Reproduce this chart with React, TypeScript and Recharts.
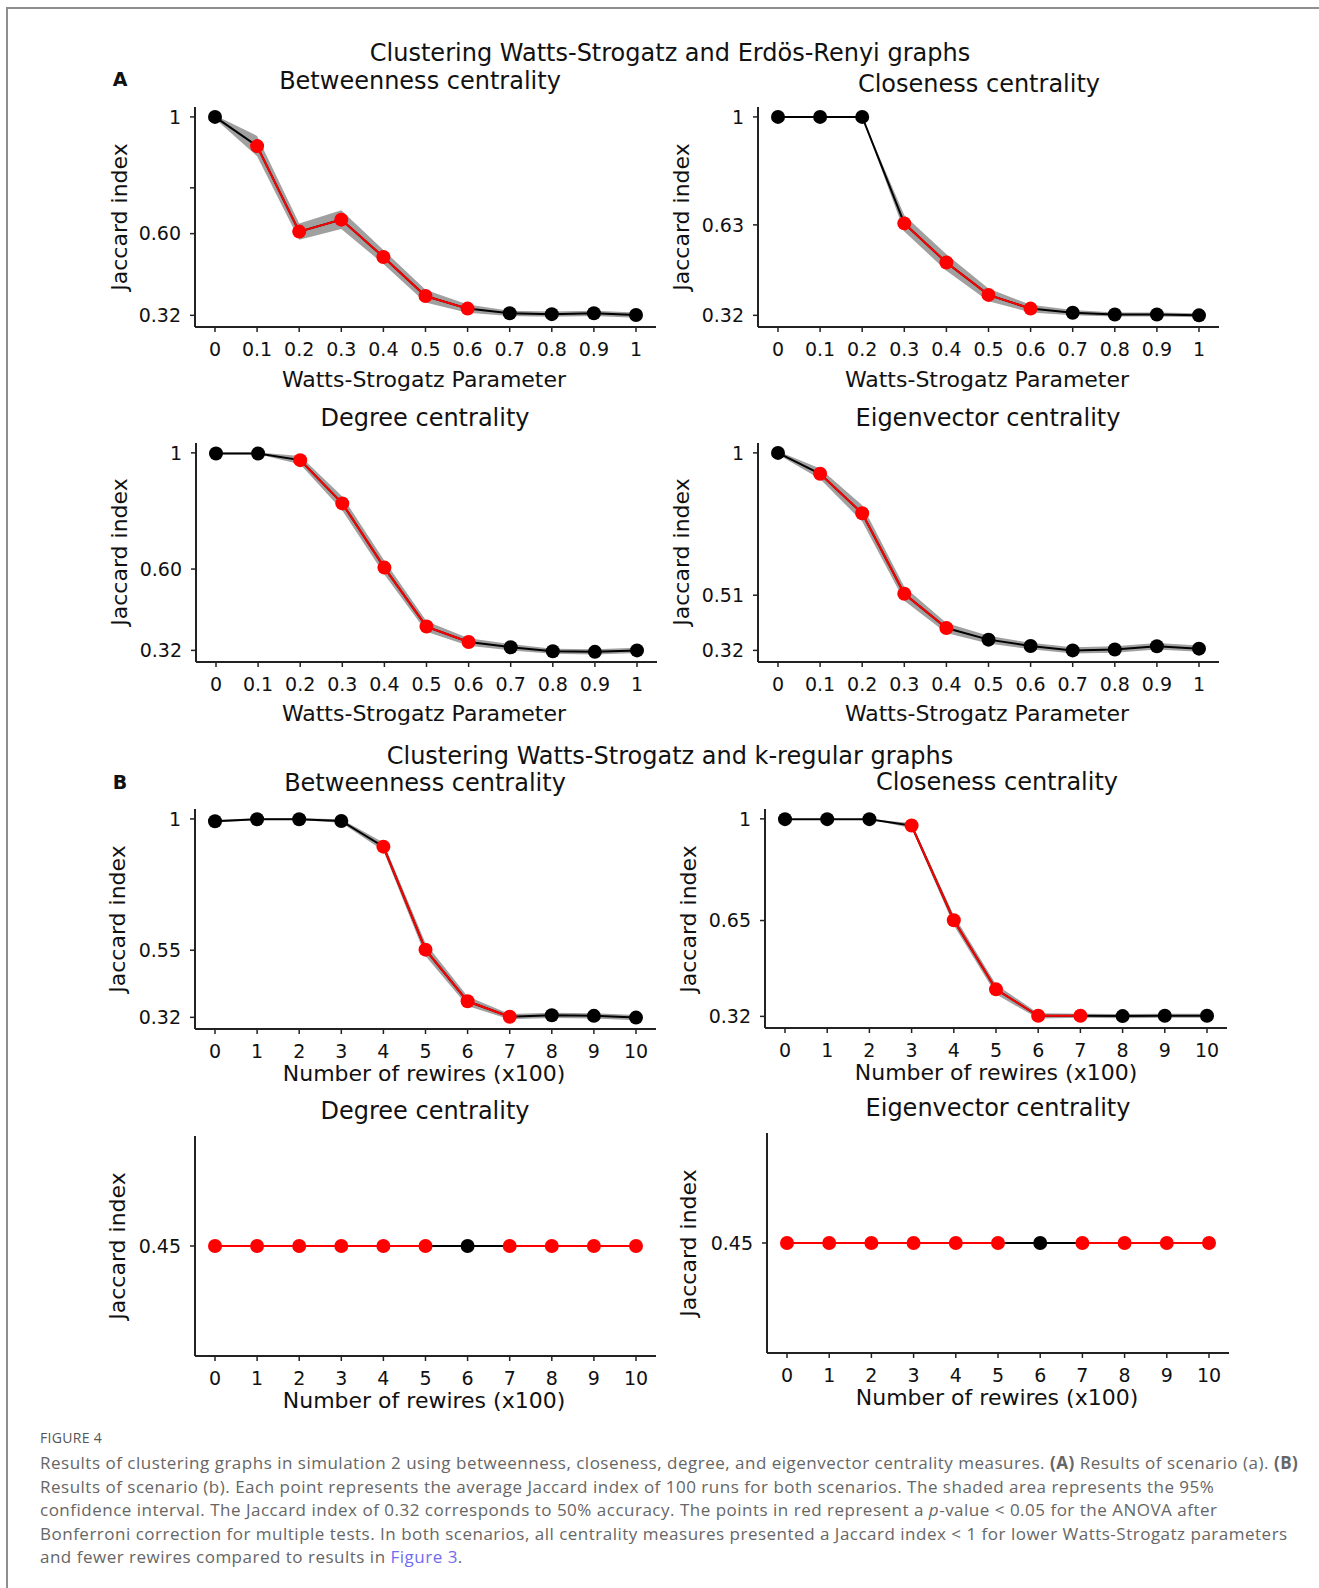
import { ComposedChart, Line, Area, XAxis, YAxis } from 'recharts';

const FONT = '"DejaVu Sans", sans-serif';
const RED = '#ff0000';

// x categories
const wsParams = ['0', '0.1', '0.2', '0.3', '0.4', '0.5', '0.6', '0.7', '0.8', '0.9', '1'];
const rewires = ['0', '1', '2', '3', '4', '5', '6', '7', '8', '9', '10'];

// Scenario A: Watts-Strogatz vs Erdös-Renyi
const betweennessA = [1.0, 0.9, 0.607, 0.648, 0.52, 0.386, 0.343, 0.327, 0.324, 0.327, 0.321];
const betweennessACi = [0.006, 0.035, 0.028, 0.032, 0.024, 0.022, 0.014, 0.009, 0.009, 0.009, 0.009];
const betweennessASig = [0, 1, 1, 1, 1, 1, 1, 0, 0, 0, 0];
const betweennessATicks = [0.32, 0.6, 0.757, 1];
const betweennessALabels = ['0.32', '0.60', '', '1'];

const closenessA = [1.0, 1.0, 1.0, 0.635, 0.501, 0.39, 0.343, 0.329, 0.323, 0.323, 0.32];
const closenessACi = [0, 0, 0, 0.028, 0.028, 0.022, 0.013, 0.009, 0.007, 0.007, 0.007];
const closenessASig = [0, 0, 0, 1, 1, 1, 1, 0, 0, 0, 0];
const closenessATicks = [0.32, 0.63, 1];
const closenessALabels = ['0.32', '0.63', '1'];

const degreeA = [0.998, 0.998, 0.975, 0.826, 0.605, 0.402, 0.349, 0.331, 0.317, 0.315, 0.32];
const degreeACi = [0.003, 0.003, 0.014, 0.024, 0.024, 0.018, 0.013, 0.011, 0.009, 0.009, 0.009];
const degreeASig = [0, 0, 1, 1, 1, 1, 1, 0, 0, 0, 0];
const degreeATicks = [0.32, 0.6, 1];
const degreeALabels = ['0.32', '0.60', '1'];

const eigenA = [1.0, 0.928, 0.792, 0.515, 0.397, 0.357, 0.335, 0.32, 0.323, 0.334, 0.326];
const eigenACi = [0.006, 0.018, 0.028, 0.024, 0.017, 0.013, 0.011, 0.011, 0.011, 0.011, 0.011];
const eigenASig = [0, 1, 1, 1, 1, 0, 0, 0, 0, 0, 0];
const eigenATicks = [0.32, 0.51, 1];
const eigenALabels = ['0.32', '0.51', '1'];

// Scenario B: Watts-Strogatz vs k-regular
const betweennessB = [0.992, 0.999, 0.999, 0.993, 0.905, 0.552, 0.375, 0.322, 0.327, 0.325, 0.319];
const betweennessBCi = [0.004, 0.003, 0.003, 0.006, 0.014, 0.022, 0.016, 0.009, 0.009, 0.009, 0.009];
const betweennessBSig = [0, 0, 0, 0, 1, 1, 1, 1, 0, 0, 0];
const betweennessBTicks = [0.32, 0.55, 1];
const betweennessBLabels = ['0.32', '0.55', '1'];

const closenessB = [0.999, 0.999, 0.999, 0.977, 0.651, 0.413, 0.322, 0.322, 0.321, 0.322, 0.322];
const closenessBCi = [0, 0, 0, 0.009, 0.017, 0.017, 0.009, 0.007, 0.007, 0.007, 0.007];
const closenessBSig = [0, 0, 0, 1, 1, 1, 1, 1, 0, 0, 0];
const closenessBTicks = [0.32, 0.65, 1];
const closenessBLabels = ['0.32', '0.65', '1'];

const degreeB = [0.45, 0.45, 0.45, 0.45, 0.45, 0.45, 0.45, 0.45, 0.45, 0.45, 0.45];
const degreeBCi = [0, 0, 0, 0, 0, 0, 0, 0, 0, 0, 0];
const degreeBSig = [1, 1, 1, 1, 1, 1, 0, 1, 1, 1, 1];

const eigenB = [0.45, 0.45, 0.45, 0.45, 0.45, 0.45, 0.45, 0.45, 0.45, 0.45, 0.45];
const eigenBCi = [0, 0, 0, 0, 0, 0, 0, 0, 0, 0, 0];
const eigenBSig = [1, 1, 1, 1, 1, 1, 0, 1, 1, 1, 1];

const flatTicks = [0.45];
const flatLabels = ['0.45'];

const Txt = ({ x, y, size, children, rotate, weight }: any) => (
  <div
    style={{
      position: 'absolute',
      left: x,
      top: y,
      transform: `translate(-50%, -50%)${rotate ? ' rotate(-90deg)' : ''}`,
      fontSize: size,
      fontFamily: FONT,
      fontWeight: weight || 'normal',
      lineHeight: 1,
      whiteSpace: 'nowrap',
      color: '#111',
    }}
  >
    {children}
  </div>
);

const renderDot = (props: any) => {
  const { cx, cy, payload, index } = props;
  if (cx == null || cy == null) return <g key={`d-${index}`} />;
  return <circle key={`d-${index}`} cx={cx} cy={cy} r={7} fill={payload.sig ? RED : '#000'} />;
};

const Panel = ({ cats, vals, ci, sig, ticks, labels, domain, left, top, w, h }: any) => {
  const data = cats.map((c: string, i: number) => ({
    x: c,
    v: vals[i],
    band: [vals[i] - ci[i], vals[i] + ci[i]],
    red: sig[i] ? vals[i] : null,
    sig: sig[i],
  }));
  const axisStyle = { stroke: '#222', strokeWidth: 2 };
  return (
    <div style={{ position: 'absolute', left: left - 80, top: top - 10 }}>
      <ComposedChart width={w + 90} height={h + 60} data={data} margin={{ top: 10, right: 10, left: 0, bottom: 0 }}>
        <XAxis
          dataKey="x"
          padding={{ left: 20, right: 20 }}
          height={50}
          axisLine={axisStyle}
          tickLine={{ stroke: '#222', strokeWidth: 1.5 }}
          tickSize={5}
          tickMargin={11}
          interval={0}
          tick={{ fontSize: 19, fill: '#111', fontFamily: FONT }}
        />
        <YAxis
          type="number"
          width={80}
          domain={domain}
          ticks={ticks}
          allowDataOverflow
          interval={0}
          tickFormatter={(t: number) => labels[ticks.indexOf(t)] ?? ''}
          axisLine={axisStyle}
          tickLine={{ stroke: '#222', strokeWidth: 1.5 }}
          tickSize={5}
          tickMargin={9}
          tick={{ fontSize: 19, fill: '#111', fontFamily: FONT }}
        />
        <Area
          type="linear"
          dataKey="band"
          stroke="none"
          fill="#a0a0a0"
          fillOpacity={1}
          isAnimationActive={false}
          activeDot={false}
        />
        <Line type="linear" dataKey="v" stroke="#000" strokeWidth={2} dot={false} activeDot={false} isAnimationActive={false} />
        <Line type="linear" dataKey="red" stroke={RED} strokeWidth={2} dot={false} activeDot={false} isAnimationActive={false} />
        <Line type="linear" dataKey="v" stroke="none" dot={renderDot} activeDot={false} isAnimationActive={false} />
      </ComposedChart>
    </div>
  );
};

const DOM = [0.28, 1.034];
const FLAT = [0.4, 0.5];

export default function App() {
  return (
    <div style={{ position: 'absolute', left: 0, top: 0, width: 1319, height: 1588, background: '#fff', overflow: 'hidden' }}>
      {/* frame */}
      <div style={{ position: 'absolute', left: 6, top: 7, width: 1313, height: 2, background: '#8e8e8e' }} />
      <div style={{ position: 'absolute', left: 6, top: 7, width: 2, height: 1581, background: '#8e8e8e' }} />

      <Txt x={670} y={53} size={24}>Clustering Watts-Strogatz and Erdös-Renyi graphs</Txt>
      <Txt x={120} y={79} size={19} weight="bold">A</Txt>

      <Txt x={420} y={81} size={24}>Betweenness centrality</Txt>
      <Panel cats={wsParams} vals={betweennessA} ci={betweennessACi} sig={betweennessASig} ticks={betweennessATicks} labels={betweennessALabels} domain={DOM} left={195} top={107} w={461} h={220} />
      <Txt x={120} y={217} size={22} rotate>Jaccard index</Txt>
      <Txt x={424} y={380} size={22}>Watts-Strogatz Parameter</Txt>

      <Txt x={979} y={84} size={24}>Closeness centrality</Txt>
      <Panel cats={wsParams} vals={closenessA} ci={closenessACi} sig={closenessASig} ticks={closenessATicks} labels={closenessALabels} domain={DOM} left={758} top={107} w={461} h={220} />
      <Txt x={682} y={217} size={22} rotate>Jaccard index</Txt>
      <Txt x={987} y={380} size={22}>Watts-Strogatz Parameter</Txt>

      <Txt x={425} y={418} size={24}>Degree centrality</Txt>
      <Panel cats={wsParams} vals={degreeA} ci={degreeACi} sig={degreeASig} ticks={degreeATicks} labels={degreeALabels} domain={DOM} left={196} top={443} w={461} h={219} />
      <Txt x={120} y={552} size={22} rotate>Jaccard index</Txt>
      <Txt x={424} y={714} size={22}>Watts-Strogatz Parameter</Txt>

      <Txt x={988} y={418} size={24}>Eigenvector centrality</Txt>
      <Panel cats={wsParams} vals={eigenA} ci={eigenACi} sig={eigenASig} ticks={eigenATicks} labels={eigenALabels} domain={DOM} left={758} top={443} w={461} h={219} />
      <Txt x={682} y={552} size={22} rotate>Jaccard index</Txt>
      <Txt x={987} y={714} size={22}>Watts-Strogatz Parameter</Txt>

      <Txt x={670} y={756} size={24}>Clustering Watts-Strogatz and k-regular graphs</Txt>
      <Txt x={120} y={782} size={19} weight="bold">B</Txt>

      <Txt x={425} y={783} size={24}>Betweenness centrality</Txt>
      <Panel cats={rewires} vals={betweennessB} ci={betweennessBCi} sig={betweennessBSig} ticks={betweennessBTicks} labels={betweennessBLabels} domain={DOM} left={195} top={809} w={461} h={220} />
      <Txt x={118} y={919} size={22} rotate>Jaccard index</Txt>
      <Txt x={424} y={1074} size={22}>Number of rewires (x100)</Txt>

      <Txt x={997} y={782} size={24}>Closeness centrality</Txt>
      <Panel cats={rewires} vals={closenessB} ci={closenessBCi} sig={closenessBSig} ticks={closenessBTicks} labels={closenessBLabels} domain={DOM} left={765} top={809} w={462} h={219} />
      <Txt x={689} y={919} size={22} rotate>Jaccard index</Txt>
      <Txt x={996} y={1073} size={22}>Number of rewires (x100)</Txt>

      <Txt x={425} y={1111} size={24}>Degree centrality</Txt>
      <Panel cats={rewires} vals={degreeB} ci={degreeBCi} sig={degreeBSig} ticks={flatTicks} labels={flatLabels} domain={FLAT} left={195} top={1136} w={461} h={220} />
      <Txt x={118} y={1246} size={22} rotate>Jaccard index</Txt>
      <Txt x={424} y={1401} size={22}>Number of rewires (x100)</Txt>

      <Txt x={998} y={1108} size={24}>Eigenvector centrality</Txt>
      <Panel cats={rewires} vals={eigenB} ci={eigenBCi} sig={eigenBSig} ticks={flatTicks} labels={flatLabels} domain={FLAT} left={767} top={1133} w={462} h={220} />
      <Txt x={689} y={1243} size={22} rotate>Jaccard index</Txt>
      <Txt x={997} y={1398} size={22}>Number of rewires (x100)</Txt>

      {/* caption */}
      <div style={{ position: 'absolute', left: 40, top: 1430, fontFamily: '"Open Sans", sans-serif', fontSize: 14, letterSpacing: 0.3, color: '#555', lineHeight: '16px' }}>
        FIGURE 4
      </div>
      <div style={{ position: 'absolute', left: 40, top: 1451, width: 1275, fontFamily: '"Open Sans", sans-serif', fontSize: 17, letterSpacing: 0.5, color: '#666', lineHeight: '23.6px', whiteSpace: 'nowrap' }}>
        Results of clustering graphs in simulation 2 using betweenness, closeness, degree, and eigenvector centrality measures. <b>(A)</b> Results of scenario (a). <b>(B)</b>
        <br />
        Results of scenario (b). Each point represents the average Jaccard index of 100 runs for both scenarios. The shaded area represents the 95%
        <br />
        confidence interval. The Jaccard index of 0.32 corresponds to 50% accuracy. The points in red represent a <i>p</i>-value &lt; 0.05 for the ANOVA after
        <br />
        Bonferroni correction for multiple tests. In both scenarios, all centrality measures presented a Jaccard index &lt; 1 for lower Watts-Strogatz parameters
        <br />
        and fewer rewires compared to results in <span style={{ color: '#6f6cf2' }}>Figure 3</span>.
      </div>
    </div>
  );
}
